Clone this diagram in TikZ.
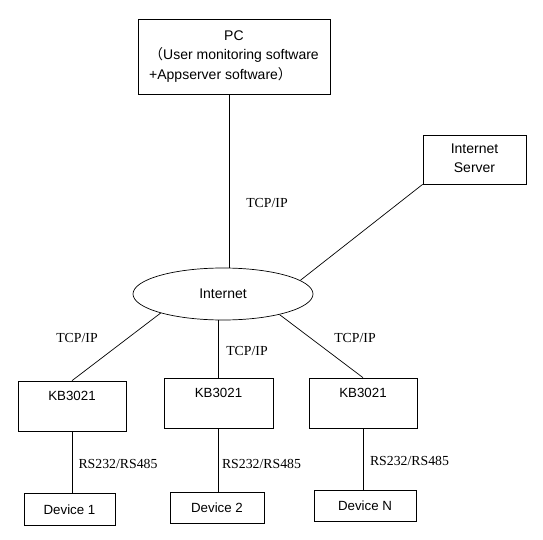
\documentclass[tikz,border=0pt]{standalone}
\usepackage{fontspec}
\setmainfont{Liberation Serif}
\setsansfont{Liberation Sans}
\newfontfamily\cjk{Noto Sans CJK SC}
\usetikzlibrary{shapes,positioning}

\begin{document}
\begin{tikzpicture}[x=1pt, y=-1pt, line width=0.7pt,
    box/.style={draw, inner sep=0pt, font=\sffamily\fontsize{14}{19.5}\selectfont, align=center},
    kbbox/.style={draw, inner sep=0pt, minimum width=108pt, minimum height=50pt, text depth=20pt, font=\sffamily\fontsize{13.3}{16}\selectfont},
    devbox/.style={draw, inner sep=0pt, minimum height=31pt, font=\sffamily\fontsize{13.3}{16}\selectfont},
    link/.style={inner sep=0pt, font=\fontsize{13.8}{16}\selectfont}]
    \useasboundingbox (0,0) rectangle (543,540);

    % PC, server and internet
    \node[box, minimum width=192pt, minimum height=75pt, align=left] (pc) at (234,56.5)
        {\hspace*{75pt}PC\\{\cjk （}User monitoring software\\+Appserver software{\cjk ）}};
    \node[box, minimum width=103pt, minimum height=49pt, text depth=3pt] (server) at (474.5,159.5) {Internet\\Server};
    \node[box, ellipse, minimum width=180pt, minimum height=52pt] (inet) at (223,294) {Internet};

    % KB3021 modules
    \node[kbbox] (kb1) at (72,406) {KB3021};
    \node[kbbox, minimum width=109pt] (kb2) at (218.5,403) {KB3021};
    \node[kbbox] (kb3) at (363,403) {KB3021};

    % Devices
    \node[devbox, minimum width=91pt, minimum height=32pt] (dev1) at (69.5,509.5) {Device 1};
    \node[devbox, minimum width=94pt] (dev2) at (217,507.5) {Device 2};
    \node[devbox, minimum width=102pt] (devN) at (365,505.5) {Device N};

    % Network links
    \draw (pc.south) ++(-5,0) coordinate (pcx) -- (pcx |- inet.north);
    \draw (server.south west) -- (inet.10);
    \draw (inet.197) -- (kb1.north);
    \draw (kb2.north |- inet.south) -- (kb2.north);
    \draw (inet.340) -- (kb3.north);

    % Serial links
    \draw (kb1.south) -- (kb1.south |- dev1.north);
    \draw (kb2.south) -- (kb2.south |- dev2.north);
    \draw (kb3.south) -- (kb3.south |- devN.north);

    % Link labels
    \node[link] (tcp0) at (267,203) {TCP/IP};
    \node[link] (tcp1) at (77,338) {TCP/IP};
    \node[link] (tcp2) at (247,351) {TCP/IP};
    \node[link] (tcp3) at (355,338) {TCP/IP};
    \node[link] (rs1) at (118,464) {RS232/RS485};
    \node[link] (rs2) at (261.5,464) {RS232/RS485};
    \node[link] (rs3) at (409.5,461) {RS232/RS485};
\end{tikzpicture}
\end{document}
